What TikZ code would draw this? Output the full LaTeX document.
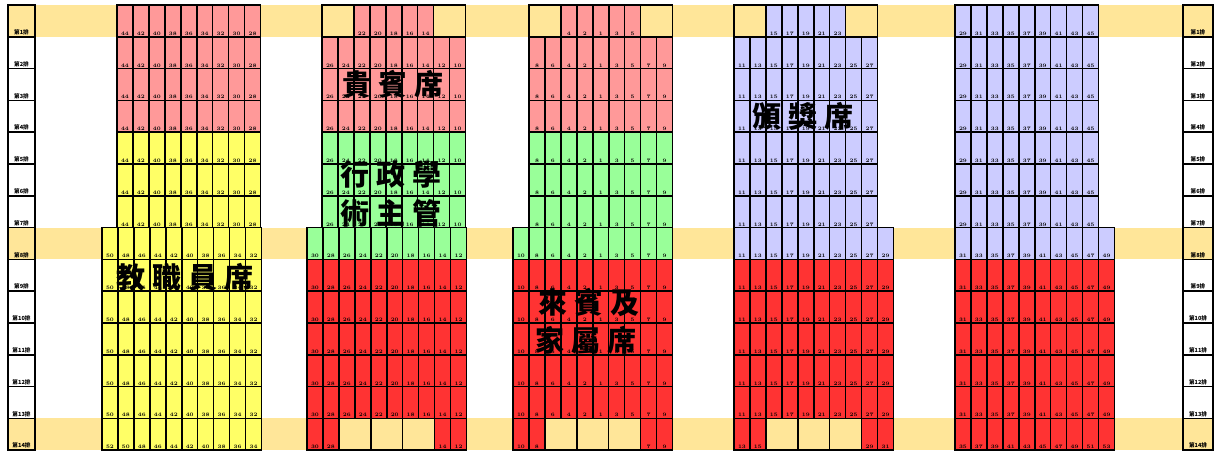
\documentclass[tikz,border=0pt]{standalone}
\usepackage{fontspec}
\newfontfamily\cjk{Noto Sans CJK TC}
\definecolor{tanb}{HTML}{FFE699}
\definecolor{pinks}{HTML}{FF9999}
\definecolor{yels}{HTML}{FFFF66}
\definecolor{grns}{HTML}{99FF99}
\definecolor{reds}{HTML}{FF3333}
\definecolor{lavs}{HTML}{CCCCFF}
\def\SW{15.95}
\def\SH{31.8}
\tikzset{
  seat/.style={draw=black,line width=1.5pt},
  num/.style={anchor=south,inner sep=0.4pt,font=\fontsize{5.2}{6}\selectfont\bfseries},
  rowlab/.style={anchor=south,inner sep=0.6pt,font=\cjk\fontsize{5.6}{6}\selectfont\bfseries},
  big/.style={font=\cjk\bfseries\fontsize{29}{31}\selectfont,inner sep=0pt,text=black}
}
\newcommand\seats[5]{%
  \foreach \sn [count=\k from #4] in {#5} {
    \pgfmathsetmacro\xa{#1+\k*\SW}
    \pgfmathsetmacro\ya{5+(#2-1)*\SH}
    \draw[seat,fill=#3] (\xa,\ya) rectangle ++(\SW,\SH);
    \node[num] (n-#1-#2-\k) at (\xa+0.5*\SW,\ya+\SH-0.9) {\sn};
  }%
}
\newcommand\tancell[3]{%
  \pgfmathsetmacro\xa{#1+#3*\SW}
  \pgfmathsetmacro\ya{5+(#2-1)*\SH}
  \draw[seat,fill=tanb] (\xa,\ya) rectangle ++(2*\SW,\SH);
}
\begin{document}
\begin{tikzpicture}[x=1pt,y=-1pt]
\useasboundingbox (0,0) rectangle (1219,452);
% bands
\foreach \r in {1,8,14} {
  \fill[tanb] (8,{5+(\r-1)*\SH}) rectangle (1213,{5+\r*\SH});
}
% row labels
\foreach \r/\fc in {1/tanb,2/white,3/white,4/white,5/white,6/white,7/white,8/tanb,9/white,10/white,11/white,12/white,13/white,14/tanb} {
  \pgfmathsetmacro\ya{5+(\r-1)*\SH}
  \draw[seat,fill=\fc] (8,\ya) rectangle (35,\ya+\SH);
  \draw[seat,fill=\fc] (1183,\ya) rectangle (1213,\ya+\SH);
  \node[rowlab] (L\r) at (21.5,\ya+\SH-1) {第\r 排};
  \node[rowlab] (R\r) at (1198,\ya+\SH-1) {第\r 排};
}
% ---- Section A
\foreach \r in {1,2,3,4} {\seats{117}{\r}{pinks}{0}{44,42,40,38,36,34,32,30,28}}
\foreach \r in {5,6,7} {\seats{117}{\r}{yels}{0}{44,42,40,38,36,34,32,30,28}}
\foreach \r in {8,...,13} {\seats{102}{\r}{yels}{0}{50,48,46,44,42,40,38,36,34,32}}
\seats{102}{14}{yels}{0}{52,50,48,46,44,42,40,38,36,34}
% ---- Section B
\tancell{322}{1}{0}\seats{322}{1}{pinks}{2}{22,20,18,16,14}\tancell{322}{1}{7}
\foreach \r in {2,3,4} {\seats{322}{\r}{pinks}{0}{26,24,22,20,18,16,14,12,10}}
\foreach \r in {5,6,7} {\seats{322}{\r}{grns}{0}{26,24,22,20,18,16,14,12,10}}
\seats{307}{8}{grns}{0}{30,28,26,24,22,20,18,16,14,12}
\foreach \r in {9,...,13} {\seats{307}{\r}{reds}{0}{30,28,26,24,22,20,18,16,14,12}}
\seats{307}{14}{reds}{0}{30,28}\tancell{307}{14}{2}\tancell{307}{14}{4}\tancell{307}{14}{6}\seats{307}{14}{reds}{8}{14,12}
% ---- Section C
\tancell{529}{1}{0}\seats{529}{1}{pinks}{2}{4,2,1,3,5}\tancell{529}{1}{7}
\foreach \r in {2,3,4} {\seats{529}{\r}{pinks}{0}{8,6,4,2,1,3,5,7,9}}
\foreach \r in {5,6,7} {\seats{529}{\r}{grns}{0}{8,6,4,2,1,3,5,7,9}}
\seats{513}{8}{grns}{0}{10,8,6,4,2,1,3,5,7,9}
\foreach \r in {9,...,13} {\seats{513}{\r}{reds}{0}{10,8,6,4,2,1,3,5,7,9}}
\seats{513}{14}{reds}{0}{10,8}\tancell{513}{14}{2}\tancell{513}{14}{4}\tancell{513}{14}{6}\seats{513}{14}{reds}{8}{7,9}
% ---- Section D
\tancell{734}{1}{0}\seats{734}{1}{lavs}{2}{15,17,19,21,23}\tancell{734}{1}{7}
\foreach \r in {2,...,7} {\seats{734}{\r}{lavs}{0}{11,13,15,17,19,21,23,25,27}}
\seats{734}{8}{lavs}{0}{11,13,15,17,19,21,23,25,27,29}
\foreach \r in {9,...,13} {\seats{734}{\r}{reds}{0}{11,13,15,17,19,21,23,25,27,29}}
\seats{734}{14}{reds}{0}{13,15}\tancell{734}{14}{2}\tancell{734}{14}{4}\tancell{734}{14}{6}\seats{734}{14}{reds}{8}{29,31}
% ---- Section E
\foreach \r in {1,...,7} {\seats{955}{\r}{lavs}{0}{29,31,33,35,37,39,41,43,45}}
\seats{955}{8}{lavs}{0}{31,33,35,37,39,41,43,45,47,49}
\foreach \r in {9,...,13} {\seats{955}{\r}{reds}{0}{31,33,35,37,39,41,43,45,47,49}}
\seats{955}{14}{reds}{0}{35,37,39,41,43,45,47,49,51,53}
% ---- big labels
\node[big] (guibin) at (393,84) {貴\hspace{7pt}賓\hspace{7pt}席};
\node[big] (xz1) at (391,175) {行\hspace{7pt}政\hspace{7pt}學};
\node[big] (xz2) at (391,213) {術\hspace{7pt}主\hspace{7pt}管};
\node[big] (banjiang) at (803,116) {頒\hspace{7pt}獎\hspace{7pt}席};
\node[big] (jiaozhi) at (185,277) {教\hspace{7pt}職\hspace{7pt}員\hspace{7pt}席};
\node[big] (laibin1) at (589,302) {來\hspace{7pt}賓\hspace{7pt}及};
\node[big] (laibin2) at (586,340) {家\hspace{7pt}屬\hspace{7pt}席};
\end{tikzpicture}
\end{document}
